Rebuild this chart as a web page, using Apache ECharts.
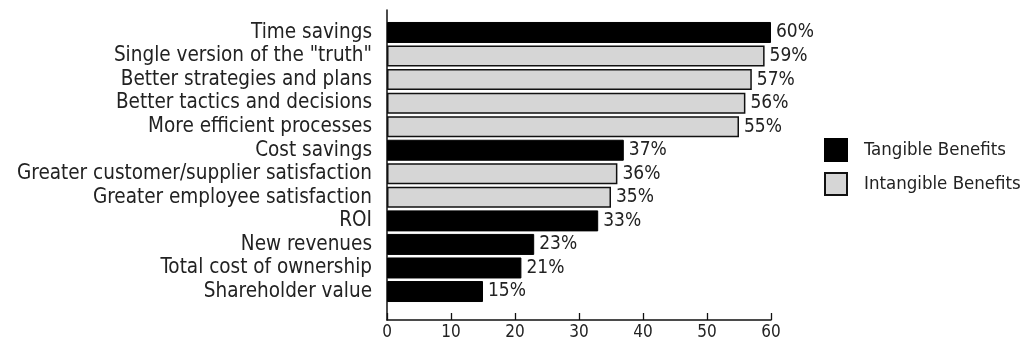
<!DOCTYPE html>
<html>
<head>
<meta charset="utf-8">
<script src="https://cdn.jsdelivr.net/npm/echarts@6/dist/echarts.min.js"></script>
<style>
html,body{margin:0;padding:0;background:#fff;}
#c{width:1028px;height:343px;}
</style>
</head>
<body>
<div id="c"></div>
<script>
const categories = [
  'Time savings',
  'Single version of the "truth"',
  'Better strategies and plans',
  'Better tactics and decisions',
  'More efficient processes',
  'Cost savings',
  'Greater customer/supplier satisfaction',
  'Greater employee satisfaction',
  'ROI',
  'New revenues',
  'Total cost of ownership',
  'Shareholder value'
];
const values = [60, 59, 57, 56, 55, 37, 36, 35, 33, 23, 21, 15];
const groups = ['T','I','I','I','I','T','I','I','T','T','T','T'];
const seriesNames = { T: 'Tangible Benefits', I: 'Intangible Benefits' };
const xTicks = [0, 10, 20, 30, 40, 50, 60];

const FONT = '"DejaVu Sans Condensed", "Liberation Sans Narrow", "DejaVu Sans", sans-serif';
const tangibleData = values.map((v, i) => groups[i] === 'T' ? v : '-');
const intangibleData = values.map((v, i) => groups[i] === 'I' ? v : '-');

const chart = echarts.init(document.getElementById('c'), null, { renderer: 'canvas' });
const labelCfg = {
  show: true, position: 'right', distance: 5,
  formatter: '{c}%', color: '#222', fontFamily: FONT, fontSize: 19
};
chart.setOption({
  animation: false,
  backgroundColor: '#fff',
  legend: {
    orient: 'vertical', left: 819, top: 133,
    itemWidth: 22, itemHeight: 22, itemGap: 10,
    icon: 'rect',
    textStyle: { fontFamily: FONT, fontSize: 18.5, color: '#222', padding: [0, 0, 0, 12] },
    data: [seriesNames.T, seriesNames.I]
  },
  grid: [
    { left: 387, width: 384, top: 20.7, height: 282.6 },
    { left: 387, width: 384, top: 10, height: 310 }
  ],
  xAxis: [
    { gridIndex: 0, type: 'value', min: 0, max: 60, show: false },
    { gridIndex: 1, type: 'value', min: xTicks[0], max: xTicks[xTicks.length - 1], interval: 10,
      axisLine: { show: true, lineStyle: { color: '#111', width: 1.5 } },
      axisTick: { show: true, inside: true, length: 7, lineStyle: { color: '#111', width: 1.3 } },
      axisLabel: { color: '#222', fontFamily: FONT, fontSize: 17, margin: 4 },
      splitLine: { show: false } }
  ],
  yAxis: [
    { gridIndex: 0, type: 'category', inverse: true, data: categories,
      axisLine: { show: false }, axisTick: { show: false },
      axisLabel: { interval: 0, color: '#222', fontFamily: FONT, fontSize: 20.5, margin: 15 } },
    { gridIndex: 1, type: 'value', min: 0, max: 1,
      axisLine: { show: true, lineStyle: { color: '#111', width: 1.5 } },
      axisTick: { show: false }, axisLabel: { show: false }, splitLine: { show: false } }
  ],
  series: [
    { name: seriesNames.T, type: 'bar', stack: 'all', xAxisIndex: 0, yAxisIndex: 0,
      data: tangibleData, barWidth: 21,
      itemStyle: { color: '#000', borderColor: '#000', borderWidth: 1 },
      label: labelCfg },
    { name: seriesNames.I, type: 'bar', stack: 'all', xAxisIndex: 0, yAxisIndex: 0,
      data: intangibleData, barWidth: 21,
      itemStyle: { color: '#d6d6d6', borderColor: '#111', borderWidth: 1.5 },
      label: labelCfg }
  ]
});
</script>
</body>
</html>
